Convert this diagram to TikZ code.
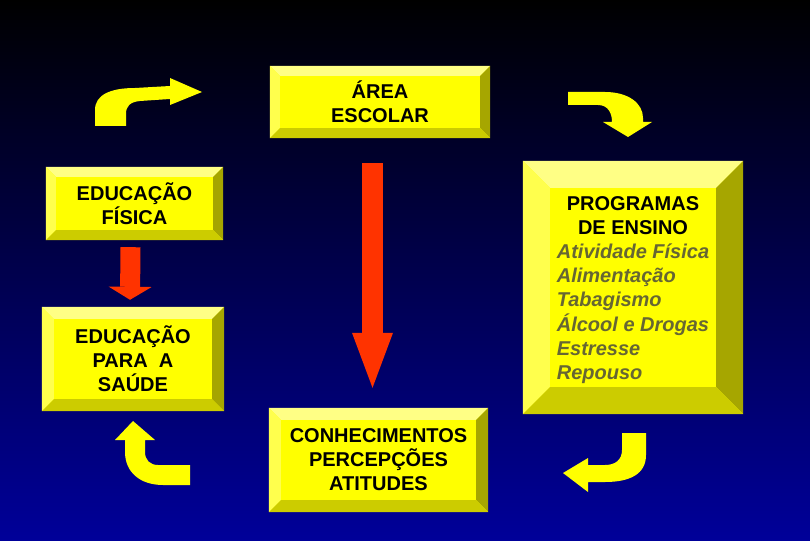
\documentclass[tikz,border=0pt]{standalone}
\usepackage{fontspec}
\setmainfont{Liberation Sans}
\usepackage{array}
\usepackage{xcolor}
\usepackage{tikz}
\usetikzlibrary{calc,arrows.meta}
\definecolor{bgblue}{HTML}{000099}
\definecolor{face}{HTML}{FFFF00}
\definecolor{bvtop}{HTML}{FFFF85}
\definecolor{bvleft}{HTML}{FFFF4D}
\definecolor{bvright}{HTML}{A6A600}
\definecolor{bvbot}{HTML}{CCCC00}
\definecolor{arrred}{HTML}{FF3300}
\definecolor{progtxt}{HTML}{666633}

\begin{document}
\begin{tikzpicture}[x=1pt, y=-1pt,
    boxface/.style={fill=face, inner sep=0pt},
    boxlbl/.style={align=center, inner sep=0pt, font=\bfseries\fontsize{20}{24}\selectfont},
    yel/.style={fill=face}]
      % background
      \shade[top color=black, bottom color=bgblue] (0,0) rectangle (810,540);
      \useasboundingbox (0,0) rectangle (810,540);
      \def\progtext{\begin{tabular}{@{}>{\itshape\color{progtxt}}l@{}}
          \multicolumn{1}{@{}c@{}}{PROGRAMAS}\\
          \multicolumn{1}{@{}c@{}}{DE ENSINO}\\
          Atividade Física\\ Alimentação\\ Tabagismo\\
          Álcool e Drogas\\ Estresse\\ Repouso
        \end{tabular}}
      % bevelled boxes
      \foreach \nm/\cx/\cy/\w/\h/\bw/\dy/\txt in {%
        area/380/102/220/72/10/0/{ÁREA\\ESCOLAR},
        fisica/134.5/203.5/177/73/10/0/{EDUCAÇÃO\\FÍSICA},
        saude/133/359/182/104/12/0/{EDUCAÇÃO\\PARA\ \ A\\SAÚDE},
        progr/633/287.5/220/253/27/-3/{\progtext},
        conhec/378.5/460/219/104/12/0/{CONHECIMENTOS\\PERCEPÇÕES\\ATITUDES}} {
        \node[boxface, minimum width=\w pt, minimum height=\h pt] (\nm) at (\cx,\cy) {};
        \fill[bvtop] (\nm.north west) -- (\nm.north east)
          -- ($(\nm.north east)+(-\bw,\bw)$) -- ($(\nm.north west)+(\bw,\bw)$) -- cycle;
        \fill[bvleft] (\nm.north west) -- (\nm.south west)
          -- ($(\nm.south west)+(\bw,-\bw)$) -- ($(\nm.north west)+(\bw,\bw)$) -- cycle;
        \fill[bvright] (\nm.north east) -- (\nm.south east)
          -- ($(\nm.south east)+(-\bw,-\bw)$) -- ($(\nm.north east)+(-\bw,\bw)$) -- cycle;
        \fill[bvbot] (\nm.south west) -- (\nm.south east)
          -- ($(\nm.south east)+(-\bw,-\bw)$) -- ($(\nm.south west)+(\bw,-\bw)$) -- cycle;
        \node[boxlbl] (\nm-t) at ([yshift=\dy pt]\nm.center) {\txt};
      }
      % red arrows
      \coordinate (fisout) at ($(fisica.south)+(-4,7)$);
      \coordinate (saudein) at ($(saude.north)+(-3,-7)$);
      \coordinate (areaout) at ($(area.south)+(-7.5,25)$);
      \coordinate (conhecin) at ($(conhec.north)+(-6,-20)$);
      \draw[line width=20pt, arrred, -{Triangle[width=43pt, length=13pt, line width=0pt]}]
        (fisout) -- (saudein);
      \draw[line width=21pt, arrred, -{Triangle[width=41pt, length=55pt, line width=0pt]}]
        (areaout) -- (conhecin);
      % curved yellow arrows
      \fill[yel] (95,126) -- (95,110) .. controls (95,95) and (110,88) .. (135,88)
        -- (170,86) -- (170,78) -- (202,92) -- (170,105) -- (170,99) -- (140,101)
        .. controls (130,102) and (126,106) .. (126,114) -- (126,126) -- cycle;
      \fill[yel] (568,92) -- (605,92) .. controls (628,92) and (643,103) .. (643,118)
        -- (643,122) -- (652,122) -- (628,137) -- (603,122) -- (612,122)
        .. controls (612,113) and (608,105) .. (598,105) -- (568,105) -- cycle;
      \fill[yel] (622,433) -- (646,433) -- (646,455) .. controls (646,474) and (630,482) .. (605,482)
        -- (588,482) -- (588,492) -- (563,473) -- (588,458) -- (588,465) -- (605,465)
        .. controls (615,465) and (622,460) .. (622,450) -- cycle;
      \fill[yel] (190,465) -- (190,485) -- (163,485) .. controls (140,485) and (125,472) .. (125,452)
        -- (125,440) -- (115,440) -- (133,421) -- (155,440) -- (145,440) -- (145,452)
        .. controls (145,460) and (150,465) .. (158,465) -- cycle;
\end{tikzpicture}
\end{document}
